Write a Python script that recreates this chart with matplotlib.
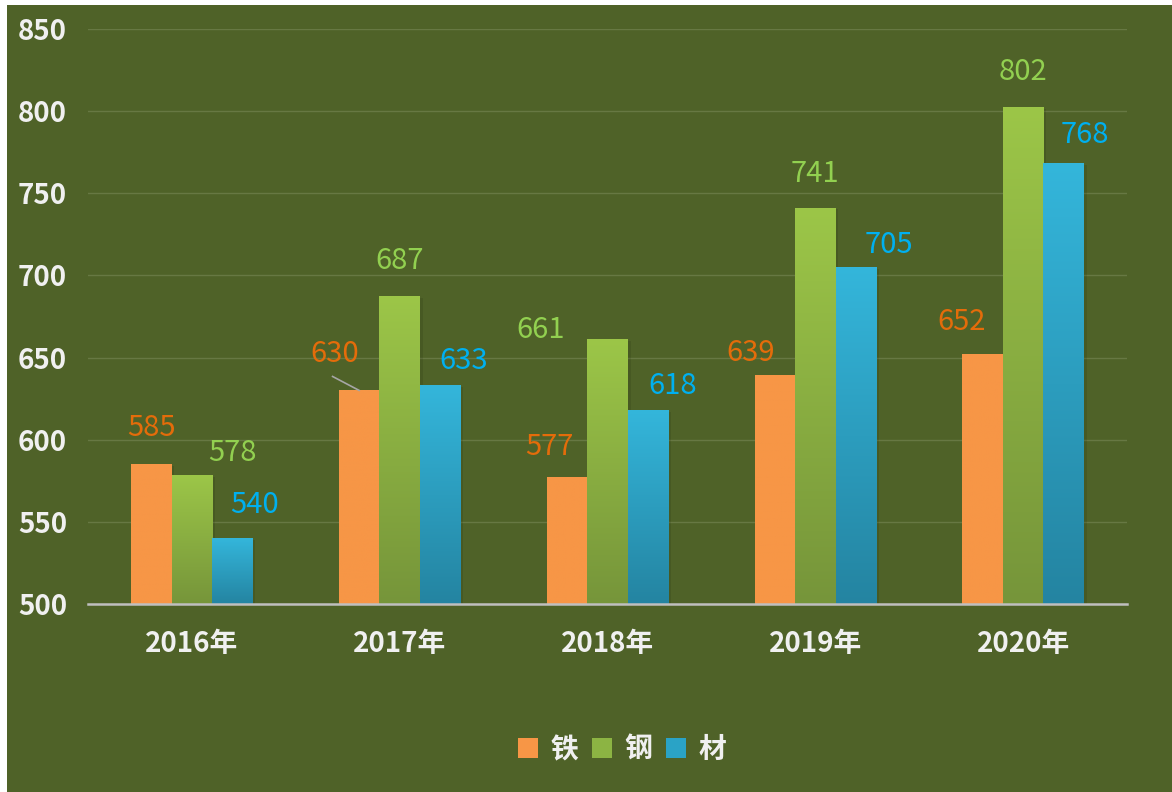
import numpy as np
import matplotlib
matplotlib.use("Agg")
import matplotlib.pyplot as plt
from matplotlib.patches import Rectangle, Patch
from matplotlib.colors import LinearSegmentedColormap
import matplotlib.patheffects as pe

plt.rcParams['font.family'] = ['Noto Sans CJK SC', 'DejaVu Sans']

# ---------------- data ----------------
years = ["2016年", "2017年", "2018年", "2019年", "2020年"]
series_names = ["铁", "钢", "材"]
iron = [585, 630, 577, 639, 652]
steel = [578, 687, 661, 741, 802]
material = [540, 633, 618, 705, 768]
y_ticks = [500, 550, 600, 650, 700, 750, 800, 850]

# label offsets (dx in category units, dy in value units)
iron_lbl_off = [(0.0, 22), (-0.12, 22), (-0.085, 18.5), (-0.115, 13.5), (-0.10, 19.5)]
steel_lbl_off = [(0.195, 14), (0.0, 21.5), (-0.32, 6), (0.0, 21), (0.0, 22)]
mat_lbl_off = [(0.106, 20.5), (0.113, 15), (0.117, 15), (0.161, 13.5), (0.10, 17.5)]

# ---------------- style ----------------
BG = "#4F6228"
GRID = "#677843"
TXT = "#F0F0F0"
bar_top = ["#F79646", "#9CC648", "#34B6DB"]
bar_bot = ["#F79646", "#76953A", "#2484A1"]
lbl_col = ["#E46C0A", "#92D050", "#00B0F0"]
legend_col = ["#F79646", "#8CB443", "#2AA3C6"]

W, H = 1172, 792
fig = plt.figure(figsize=(W / 100, H / 100), dpi=100, facecolor="white")
fig.patches.append(Rectangle((7 / W, 0), 1 - 7 / W, 1 - 5 / H,
                             transform=fig.transFigure, facecolor=BG,
                             edgecolor="none", zorder=-10))

ax = fig.add_axes([88 / W, (H - 604) / H, (1127 - 88) / W, (604 - 29) / H])
ax.set_facecolor("none")

x = np.arange(len(years))
bw = 0.195
all_series = [iron, steel, material]
offs = [-bw, 0.0, bw]

for s, vals in enumerate(all_series):
    cmap = LinearSegmentedColormap.from_list(f"g{s}", [bar_bot[s], bar_top[s]])
    grad = np.linspace(0, 1, 256).reshape(-1, 1)
    bars = ax.bar(x + offs[s], np.array(vals) - 500, bw, bottom=500,
                  color=bar_bot[s], edgecolor="none", zorder=3,
                  path_effects=[pe.SimplePatchShadow(offset=(2, -1), alpha=0.15,
                                                     shadow_rgbFace="#1f2a0c"),
                                pe.Normal()])
    for b in bars:
        x0 = b.get_x()
        x1 = x0 + b.get_width()
        y0 = b.get_y()
        y1 = y0 + b.get_height()
        ax.imshow(grad, cmap=cmap, extent=[x0, x1, y0, y1], origin="lower",
                  aspect="auto", zorder=4, interpolation="bilinear")

# data labels
lbl_offs = [iron_lbl_off, steel_lbl_off, mat_lbl_off]
for s, vals in enumerate(all_series):
    for i, v in enumerate(vals):
        dx, dy = lbl_offs[s][i]
        ax.text(x[i] + offs[s] + dx, v + dy, str(v), color=lbl_col[s],
                fontsize=21, fontweight="medium", ha="center", va="center",
                zorder=6)

# leader line for 2017 iron label
ax.plot([x[1] + offs[0] - 0.128, x[1] + offs[0]], [iron[1] + 8.5, iron[1]],
        color="#A6A6A6", lw=1.2, zorder=6)

ax.set_xlim(-0.5, len(years) - 0.5)
ax.set_ylim(500, 850)
ax.set_yticks(y_ticks)
ax.set_yticklabels([str(t) for t in y_ticks])
ax.set_xticks(x)
ax.set_xticklabels(years)
ax.grid(axis="y", color=GRID, lw=1, zorder=0)
ax.set_axisbelow(True)
for sp in ["top", "right", "left"]:
    ax.spines[sp].set_visible(False)
ax.spines["bottom"].set_color("#BFBFBF")
ax.spines["bottom"].set_linewidth(1.8)
ax.spines["bottom"].set_zorder(7)
ax.tick_params(axis="both", length=0, colors=TXT)
ax.tick_params(axis="y", pad=15)
ax.tick_params(axis="x", pad=18.5)
for t in ax.get_yticklabels():
    t.set_fontsize(20)
    t.set_fontweight("bold")
    t.set_color(TXT)
for t in ax.get_xticklabels():
    t.set_fontsize(20)
    t.set_fontweight("bold")
    t.set_color(TXT)

handles = [Patch(facecolor=legend_col[i], edgecolor="none", label=series_names[i])
           for i in range(3)]
leg = fig.legend(handles=handles, loc="center", ncol=3,
                 bbox_to_anchor=(622 / W, 1 - 750 / H), frameon=False,
                 handlelength=0.72, handleheight=0.72, handletextpad=0.45,
                 columnspacing=0.5, prop={"size": 20, "weight": "bold"})
for t in leg.get_texts():
    t.set_color(TXT)

fig.savefig("out.png", dpi=100, facecolor="white")
